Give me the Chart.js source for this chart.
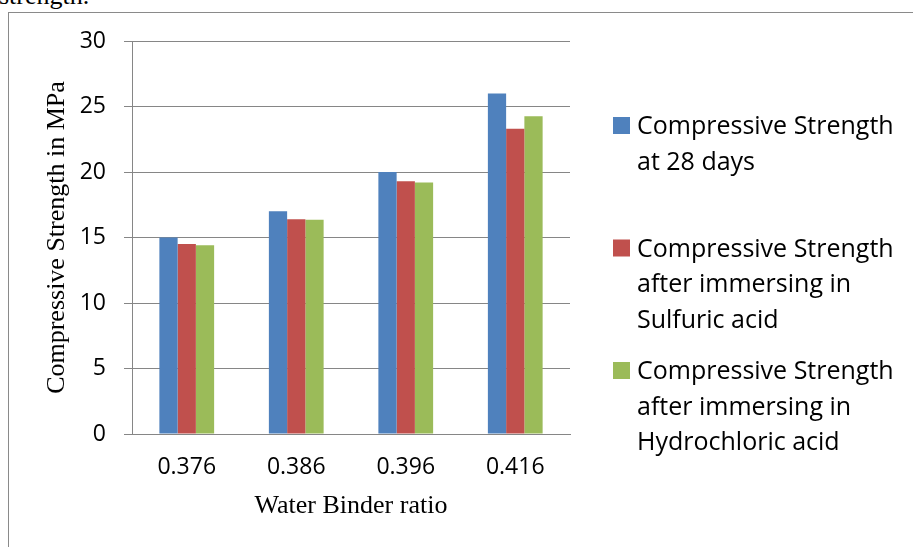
<!DOCTYPE html>
<html>
<head>
<meta charset="utf-8">
<script src="https://cdn.jsdelivr.net/npm/chart.js@4"></script>
<style>
  html, body { margin: 0; padding: 0; background: #fff; overflow: hidden; }
  #wrap { position: relative; width: 913px; height: 547px; }
  #frame { position: absolute; left: 8px; top: 12px; width: 1000px; height: 1000px; border: 1px solid #8a8a8a; box-sizing: border-box; }
  #cut { position: absolute; left: -1px; top: -17px; font: 26px "Liberation Serif", "Times New Roman", serif; line-height: 1; color: #000; white-space: nowrap; }
  #chart { position: absolute; left: 0; top: 0; }
</style>
</head>
<body>
<div id="wrap">
  <div id="cut">strength.</div>
  <div id="frame"></div>
  <canvas id="chart" width="913" height="547"></canvas>
</div>
<script>
const ratios = ["0.376", "0.386", "0.396", "0.416"];
const at28days = [15, 17, 20, 26];
const sulfuric = [14.5, 16.4, 19.3, 23.3];
const hydrochloric = [14.4, 16.35, 19.2, 24.25];
const seriesNames = [
    ["Compressive Strength", "at 28 days"],
    ["Compressive Strength", "after immersing in", "Sulfuric acid"],
    ["Compressive Strength", "after immersing in", "Hydrochloric acid"]
];
const colors = ["#4F81BD", "#C0504D", "#9BBB59"];

const sansFont = "'Open Sans', 'Noto Sans', sans-serif";
const serifFont = "'Liberation Serif', 'Times New Roman', serif";
const gridColor = "#868686";

// legend drawn by hand so the labels can wrap like the original
const sideLegend = {
    id: "sideLegend",
    afterDraw(chart) {
        const ctx = chart.ctx;
        const x = chart.chartArea.right + 43;
        ctx.save();
        ctx.font = "25px " + sansFont;
        ctx.textBaseline = "alphabetic";
        ctx.textAlign = "left";
        chart.data.datasets.forEach((ds, i) => {
            const base = 134 + i * 122.5;
            ctx.fillStyle = ds.backgroundColor;
            ctx.fillRect(x, base - 17, 17, 17);
            ctx.fillStyle = "#000";
            ds.lines.forEach((line, k) => {
                ctx.fillText(line, x + 24, base + k * 35.7);
            });
        });
        ctx.restore();
    }
};

const ctx = document.getElementById("chart").getContext("2d");
new Chart(ctx, {
    type: "bar",
    data: {
        labels: ratios,
        datasets: [
            { label: seriesNames[0].join(" "), lines: seriesNames[0], data: at28days, backgroundColor: colors[0] },
            { label: seriesNames[1].join(" "), lines: seriesNames[1], data: sulfuric, backgroundColor: colors[1] },
            { label: seriesNames[2].join(" "), lines: seriesNames[2], data: hydrochloric, backgroundColor: colors[2] }
        ]
    },
    options: {
        responsive: false,
        animation: false,
        devicePixelRatio: 1,
        categoryPercentage: 0.5,
        barPercentage: 1.0,
        layout: {
            padding: { left: 0, right: 343, top: 41, bottom: 0 }
        },
        plugins: {
            legend: { display: false },
            tooltip: { enabled: false }
        },
        scales: {
            x: {
                grid: { display: false, drawTicks: false },
                border: { display: true, color: gridColor, width: 1 },
                ticks: {
                    color: "#000",
                    padding: 20,
                    font: { family: sansFont, size: 23 }
                },
                title: {
                    display: true,
                    text: "Water Binder ratio",
                    color: "#000",
                    font: { family: serifFont, size: 26 },
                    padding: { top: 0, bottom: 25 }
                },
                afterFit: (scale) => { scale.height = 113; }
            },
            y: {
                min: 0,
                max: 30,
                grid: { color: gridColor, lineWidth: 1, tickLength: 8 },
                border: { display: true, color: gridColor, width: 1 },
                ticks: {
                    stepSize: 5,
                    color: "#000",
                    padding: 18,
                    font: { family: sansFont, size: 23 }
                },
                title: {
                    display: true,
                    text: "Compressive Strength in MPa",
                    color: "#000",
                    font: { family: serifFont, size: 26 },
                    padding: { top: 42, bottom: 0 }
                },
                afterFit: (scale) => { scale.width = 132; }
            }
        }
    },
    plugins: [sideLegend]
});
</script>
</body>
</html>
